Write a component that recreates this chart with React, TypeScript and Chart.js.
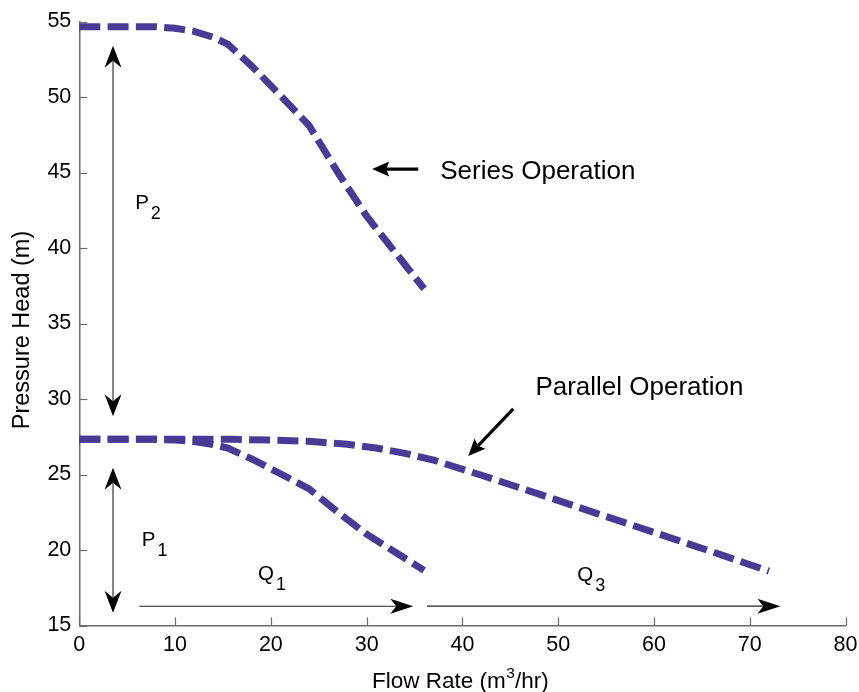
import React, { useEffect, useRef } from "react";
import { Chart, registerables } from "chart.js";

Chart.register(...registerables);

const FONT = '"Liberation Sans", Arial, Helvetica, sans-serif';
const LINE_COLOR = "#4a3a96";
const AXIS_COLOR = "#6b6b6b";

// Axis ticks
const xTicks = [0, 10, 20, 30, 40, 50, 60, 70, 80];
const yTicks = [15, 20, 25, 30, 35, 40, 45, 50, 55];

// Single pump curve
const singleFlow = [0, 8, 10, 12, 14, 15.5, 18, 21, 24, 27, 30, 33, 36];
const singleHead = [27.33, 27.33, 27.28, 27.18, 26.98, 26.75, 26.03, 25.05, 24.05, 22.5, 21.05, 19.85, 18.65];

// Series operation
const seriesFlow = [0, 8, 10, 12, 14, 15.5, 18, 21, 24, 27, 30, 33, 36];
const seriesHead = [54.65, 54.65, 54.55, 54.35, 53.95, 53.5, 52.05, 50.1, 48.1, 45.0, 42.1, 39.7, 37.3];

// Parallel operation
const parallelFlow = [0, 16, 20, 24, 28, 31, 34, 37, 42, 48, 54, 60, 66, 72];
const parallelHead = [27.33, 27.33, 27.28, 27.2, 27.0, 26.75, 26.4, 25.95, 24.95, 23.7, 22.43, 21.17, 19.9, 18.6];

// Annotation arrows (data units): [x1, y1, x2, y2]
const thinDoubleArrows = [
  [3.52, 28.85, 3.52, 53.4],
  [3.52, 15.85, 3.52, 25.45],
];
const thinArrows = [
  [6.27, 16.27, 34.87, 16.27],
  [36.3, 16.28, 73.2, 16.28],
];
const thickArrows = [
  [35.39, 45.23, 30.58, 45.23],
  [45.31, 29.34, 40.61, 26.23],
];

// Annotation labels
const bigLabels = [
  { text: "Series Operation", x: 37.69, y: 44.54 },
  { text: "Parallel Operation", x: 47.62, y: 30.26 },
];
const subLabels = [
  { text: "P", sub: "2", x: 5.83, y: 42.56 },
  { text: "P", sub: "1", x: 6.52, y: 20.28 },
  { text: "Q", sub: "1", x: 18.67, y: 18.01 },
  { text: "Q", sub: "3", x: 52.0, y: 17.95 },
];

const toPts = (xs: number[], ys: number[]) => xs.map((v, i) => ({ x: v, y: ys[i] }));

function drawHead(
  ctx: CanvasRenderingContext2D,
  tx: number,
  ty: number,
  fx: number,
  fy: number,
  L: number,
  W: number,
  N: number
) {
  const dx = tx - fx;
  const dy = ty - fy;
  const len = Math.hypot(dx, dy) || 1;
  const ux = dx / len;
  const uy = dy / len;
  const nx = -uy;
  const ny = ux;
  const bx = tx - ux * L;
  const by = ty - uy * L;
  ctx.beginPath();
  ctx.moveTo(tx, ty);
  ctx.lineTo(bx + nx * W, by + ny * W);
  ctx.lineTo(tx - ux * (L - N), ty - uy * (L - N));
  ctx.lineTo(bx - nx * W, by - ny * W);
  ctx.closePath();
  ctx.fill();
  return [tx - ux * (L - N), ty - uy * (L - N)];
}

const annotPlugin = {
  id: "annot",
  afterDraw(chart: any) {
    const { ctx, scales } = chart;
    const xs = scales.x;
    const ys = scales.y;
    const X = (v: number) => xs.getPixelForValue(v);
    const Y = (v: number) => ys.getPixelForValue(v);
    ctx.save();

    // inward tick marks
    ctx.strokeStyle = AXIS_COLOR;
    ctx.lineWidth = 1.2;
    xTicks.forEach((t) => {
      const px = Math.round(X(t)) + 0.5;
      ctx.beginPath();
      ctx.moveTo(px, ys.bottom);
      ctx.lineTo(px, ys.bottom - 8);
      ctx.stroke();
    });
    yTicks.forEach((t) => {
      const py = Math.round(Y(t)) + 0.5;
      ctx.beginPath();
      ctx.moveTo(xs.left, py);
      ctx.lineTo(xs.left + 8, py);
      ctx.stroke();
    });

    // thin arrows
    ctx.fillStyle = "#000";
    ctx.strokeStyle = "#222";
    ctx.lineWidth = 1.1;
    thinDoubleArrows.forEach(([x1, y1, x2, y2]) => {
      const ax = X(x1), ay = Y(y1), bx = X(x2), by = Y(y2);
      const e1 = drawHead(ctx, ax, ay, bx, by, 22, 8.5, 7);
      const e2 = drawHead(ctx, bx, by, ax, ay, 22, 8.5, 7);
      ctx.beginPath();
      ctx.moveTo(e1[0], e1[1]);
      ctx.lineTo(e2[0], e2[1]);
      ctx.stroke();
    });
    thinArrows.forEach(([x1, y1, x2, y2]) => {
      const ax = X(x1), ay = Y(y1), bx = X(x2), by = Y(y2);
      const e = drawHead(ctx, bx, by, ax, ay, 23, 7.5, 6);
      ctx.beginPath();
      ctx.moveTo(ax, ay);
      ctx.lineTo(e[0], e[1]);
      ctx.stroke();
    });

    // thick arrows
    ctx.lineWidth = 3.2;
    ctx.strokeStyle = "#000";
    thickArrows.forEach(([x1, y1, x2, y2]) => {
      const ax = X(x1), ay = Y(y1), bx = X(x2), by = Y(y2);
      const e = drawHead(ctx, bx, by, ax, ay, 17, 7.5, 3);
      ctx.beginPath();
      ctx.moveTo(ax, ay);
      ctx.lineTo(e[0], e[1]);
      ctx.stroke();
    });

    // labels
    ctx.fillStyle = "#000";
    ctx.textBaseline = "alphabetic";
    ctx.textAlign = "left";
    ctx.font = `26px ${FONT}`;
    bigLabels.forEach((l) => ctx.fillText(l.text, X(l.x), Y(l.y)));
    subLabels.forEach((l) => {
      ctx.font = `20.5px ${FONT}`;
      const px = X(l.x);
      const py = Y(l.y);
      ctx.fillText(l.text, px, py);
      const w = ctx.measureText(l.text).width;
      ctx.font = `18px ${FONT}`;
      ctx.fillText(l.sub, px + w + 2, py + 10);
    });

    // x axis title with superscript
    const tx0 = 372;
    const tyBase = 688.3;
    ctx.font = `22.5px ${FONT}`;
    const partA = "Flow Rate (m";
    ctx.fillText(partA, tx0, tyBase);
    let cx = tx0 + ctx.measureText(partA).width;
    ctx.font = `15.5px ${FONT}`;
    ctx.fillText("3", cx + 0.5, tyBase - 10.6);
    cx += ctx.measureText("3").width + 0.5;
    ctx.font = `22.5px ${FONT}`;
    ctx.fillText("/hr)", cx, tyBase);

    // y axis title
    ctx.save();
    ctx.translate(29.3, 330);
    ctx.rotate(-Math.PI / 2);
    ctx.font = `23.5px ${FONT}`;
    ctx.textAlign = "center";
    ctx.fillText("Pressure Head (m)", 0, 0);
    ctx.restore();

    ctx.restore();
  },
};

export default function App() {
  const canvasRef = useRef<HTMLCanvasElement | null>(null);

  useEffect(() => {
    document.body.style.margin = "0";
    const canvas = canvasRef.current;
    if (!canvas) return;
    const lineDs = (data: { x: number; y: number }[]) => ({
      data,
      borderColor: LINE_COLOR,
      backgroundColor: LINE_COLOR,
      borderWidth: 7,
      borderDash: [21, 7.3],
      borderCapStyle: "butt" as const,
      borderJoinStyle: "miter" as const,
      pointRadius: 0,
      tension: 0,
      fill: false,
      clip: false as any,
    });
    const chart = new Chart(canvas, {
      type: "line",
      data: {
        datasets: [
          lineDs(toPts(seriesFlow, seriesHead)),
          lineDs(toPts(parallelFlow, parallelHead)),
          lineDs(toPts(singleFlow, singleHead)),
        ],
      },
      options: {
        animation: false,
        responsive: true,
        maintainAspectRatio: false,
        devicePixelRatio: 1,
        layout: { padding: { top: 21.5, right: 13.5, left: 0, bottom: 0 } },
        plugins: {
          legend: { display: false },
          tooltip: { enabled: false },
        },
        scales: {
          x: {
            type: "linear",
            min: 0,
            max: 80,
            afterFit: (s: any) => {
              s.height = 66.5;
              s.paddingLeft = 0;
              s.paddingRight = 0;
            },
            afterBuildTicks: (s: any) => {
              s.ticks = xTicks.map((v) => ({ value: v }));
            },
            grid: { display: false, drawTicks: false },
            border: { display: true, color: AXIS_COLOR, width: 1.5 },
            ticks: {
              padding: 7,
              color: "#000",
              font: { family: FONT, size: 21.5 },
              maxRotation: 0,
            },
          },
          y: {
            type: "linear",
            min: 15,
            max: 55,
            afterFit: (s: any) => {
              s.width = 79.3;
              s.paddingTop = 0;
              s.paddingBottom = 0;
            },
            afterBuildTicks: (s: any) => {
              s.ticks = yTicks.map((v) => ({ value: v }));
            },
            grid: { display: false, drawTicks: false },
            border: { display: true, color: AXIS_COLOR, width: 1.5 },
            ticks: {
              padding: 8,
              color: "#000",
              font: { family: FONT, size: 21.5 },
            },
          },
        },
      },
      plugins: [annotPlugin],
    });
    return () => chart.destroy();
  }, []);

  return (
    <div style={{ position: "relative", width: 859, height: 692 }}>
      <canvas ref={canvasRef} />
    </div>
  );
}
